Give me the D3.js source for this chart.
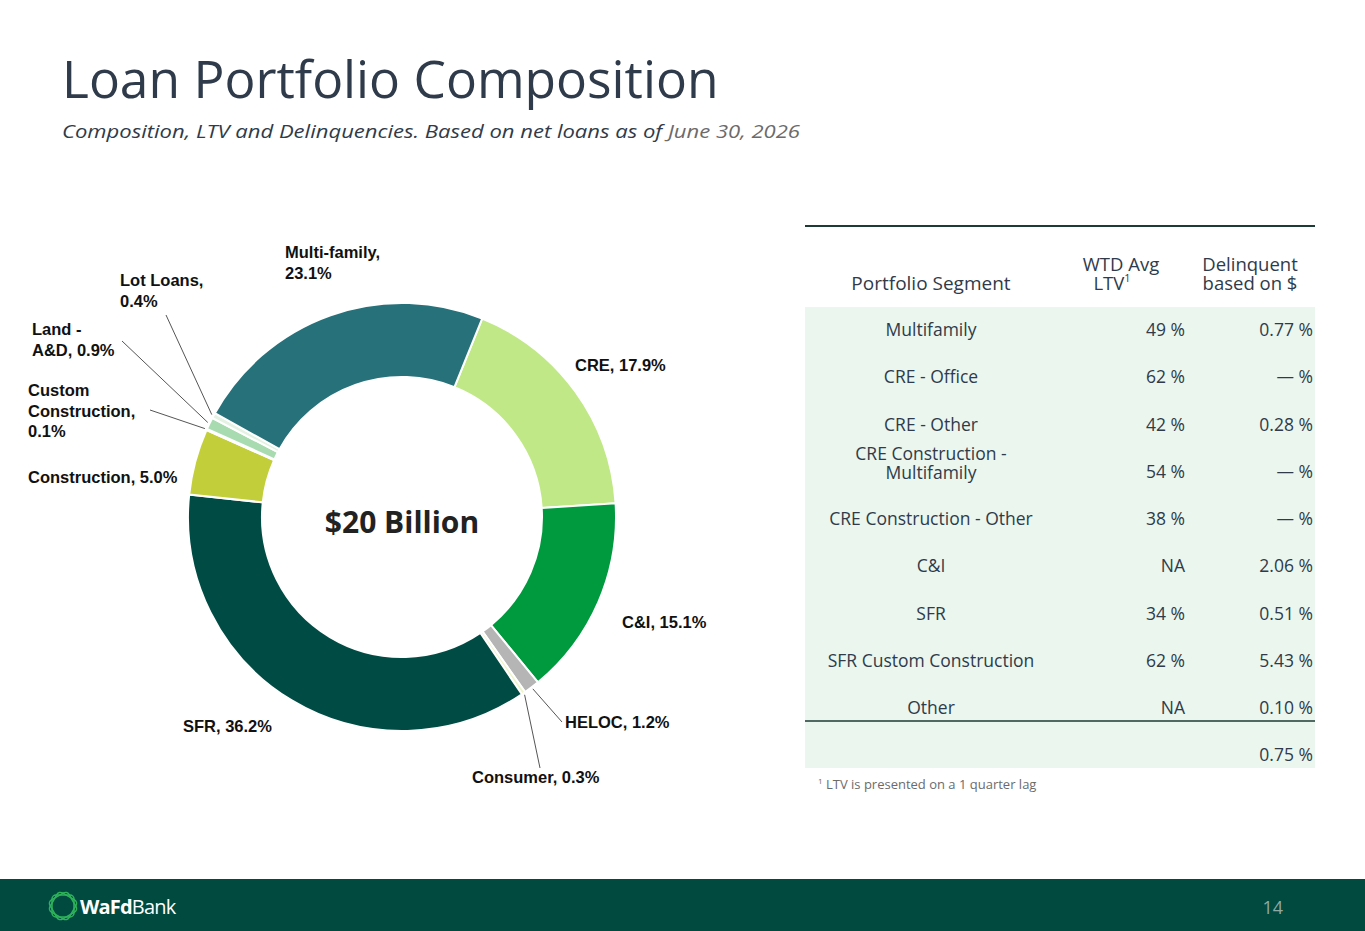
<!DOCTYPE html>
<html lang="en">
<head>
<meta charset="UTF-8">
<title>Loan Portfolio Composition</title>
<script src="https://d3js.org/d3.v7.min.js"></script>
<style>
  html, body { margin: 0; padding: 0; background: #fff; }
  svg { display: block; }
</style>
</head>
<body>
<svg width="1365" height="931"></svg>
<script>
  // donut slices, clockwise from the top-right
  const sliceNames = ["CRE", "C&I", "HELOC", "Consumer", "SFR", "Construction", "Custom Construction", "Land - A&D", "Lot Loans", "Multi-family"];
  const sliceValues = [17.9, 15.1, 1.2, 0.3, 36.2, 5.0, 0.1, 0.9, 0.4, 23.1];
  const sliceColors = ["#c0e887", "#009a3e", "#b5b5b5", "#eef5c8", "#004c45", "#c2cf3a", "#f4faf4", "#a8dcb0", "#e3f2e3", "#26717a"];

  // table
  const segments = ["Multifamily", "CRE - Office", "CRE - Other", "CRE Construction -\nMultifamily", "CRE Construction - Other", "C&I", "SFR", "SFR Custom Construction", "Other"];
  const ltv = ["49 %", "62 %", "42 %", "54 %", "38 %", "NA", "34 %", "62 %", "NA"];
  const delinquent = ["0.77 %", "— %", "0.28 %", "— %", "— %", "2.06 %", "0.51 %", "5.43 %", "0.10 %"];
  const totalDelinquent = "0.75 %";

  const svg = d3.select("svg");
  const font = "'Open Sans', 'Noto Sans', sans-serif";
  const arialish = "'Liberation Sans', Arial, sans-serif";

  // title
  svg.append("text").attr("x", 62).attr("y", 98).attr("font-family", font)
    .attr("font-size", 51.5).attr("fill", "#2f3b4a").text("Loan Portfolio Composition");
  const sub = svg.append("text").attr("x", 62).attr("y", 138).attr("font-family", font)
    .attr("font-size", 19).attr("font-style", "italic").attr("fill", "#2f3b4a")
    .attr("textLength", 738).attr("lengthAdjust", "spacingAndGlyphs");
  sub.append("tspan").text("Composition, LTV and Delinquencies. Based on net loans as of ");
  sub.append("tspan").attr("fill", "#6b6b6b").text("June 30, 2026");

  // donut
  const cx = 402, cy = 517;
  const pie = d3.pie().sort(null).startAngle(22 * Math.PI / 180).endAngle(22 * Math.PI / 180 + 2 * Math.PI);
  const arcs = pie(sliceValues);
  const arc = d3.arc().innerRadius(140).outerRadius(214);
  const g = svg.append("g").attr("transform", `translate(${cx},${cy})`);
  g.selectAll("path").data(arcs).join("path")
    .attr("d", arc).attr("fill", (d, i) => sliceColors[i])
    .attr("stroke", "#fff").attr("stroke-width", 2);

  g.append("text").attr("text-anchor", "middle").attr("y", 16)
    .attr("font-family", font).attr("font-weight", 700).attr("font-size", 30)
    .attr("fill", "#222").text("$20 Billion");

  // labels: [lines, x, y, leader end point (label side) or null]
  const labelPos = [
    [["CRE, 17.9%"], 575, 371, null],
    [["C&I, 15.1%"], 622, 628, null],
    [["HELOC, 1.2%"], 565, 728, [562, 722]],
    [["Consumer, 0.3%"], 472, 783, [540, 768]],
    [["SFR, 36.2%"], 183, 732, null],
    [["Construction, 5.0%"], 28, 483, null],
    [["Custom", "Construction,", "0.1%"], 28, 396, [150, 410]],
    [["Land -", "A&D, 0.9%"], 32, 335, [122, 341]],
    [["Lot Loans,", "0.4%"], 120, 286, [166, 315]],
    [["Multi-family,", "23.1%"], 285, 258, null]
  ];
  labelPos.forEach((l, i) => {
    const t = svg.append("text").attr("font-family", arialish).attr("font-weight", 700)
      .attr("font-size", 16.5).attr("fill", "#111");
    l[0].forEach((s, k) => t.append("tspan").attr("x", l[1]).attr("y", l[2] + k * 20.5).text(s));
    if (l[3]) {
      const a = arcs[i], mid = (a.startAngle + a.endAngle) / 2;
      const r = 216;
      svg.append("line").attr("x1", cx + r * Math.sin(mid)).attr("y1", cy - r * Math.cos(mid))
        .attr("x2", l[3][0]).attr("y2", l[3][1]).attr("stroke", "#555").attr("stroke-width", 1);
    }
  });

  // table
  const tx0 = 805, tx1 = 1315;
  svg.append("line").attr("x1", tx0).attr("x2", tx1).attr("y1", 226).attr("y2", 226)
    .attr("stroke", "#1c3b34").attr("stroke-width", 2);
  svg.append("rect").attr("x", tx0).attr("y", 307).attr("width", tx1 - tx0).attr("height", 461).attr("fill", "#ebf6ee");
  const tf = (x, y, anchor, txt, size) => svg.append("text").attr("x", x).attr("y", y)
    .attr("text-anchor", anchor).attr("font-family", font).attr("font-size", size || 17.5)
    .attr("fill", "#2f3b4a").text(txt);
  tf(931, 290, "middle", "Portfolio Segment", 19);
  tf(1121, 271, "middle", "WTD Avg", 18.5);
  const l2 = tf(1112, 290, "middle", "LTV", 18.5);
  l2.append("tspan").attr("font-size", 11).attr("dy", -8).text("1");
  tf(1250, 271, "middle", "Delinquent", 18.5);
  tf(1250, 290, "middle", "based on $", 18.5);

  const rowY = d3.scaleLinear().domain([0, 8]).range([336, 714]);
  segments.forEach((s, i) => {
    const y = rowY(i);
    const parts = s.split("\n");
    if (parts.length > 1) {
      tf(931, y - 18, "middle", parts[0]);
      tf(931, y + 1, "middle", parts[1]);
    } else tf(931, y, "middle", s);
    tf(1185, y, "end", ltv[i]);
    tf(1313, y, "end", delinquent[i]);
  });
  svg.append("line").attr("x1", tx0).attr("x2", tx1).attr("y1", 721).attr("y2", 721)
    .attr("stroke", "#1c3b34").attr("stroke-width", 1.5);
  tf(1313, 761, "end", totalDelinquent);

  const fn = svg.append("text").attr("x", 818).attr("y", 789).attr("font-family", font)
    .attr("font-size", 13).attr("fill", "#6b6b6b");
  fn.append("tspan").attr("font-size", 8).attr("dy", -5).text("1");
  fn.append("tspan").attr("dy", 5).text(" LTV is presented on a 1 quarter lag");

  // footer
  svg.append("rect").attr("x", 0).attr("y", 879).attr("width", 1365).attr("height", 52).attr("fill", "#004a40");
  const logo = svg.append("g").attr("transform", "translate(63,906)");
  [0, 30, 60].forEach(r => logo.append("rect").attr("x", -11).attr("y", -11).attr("width", 22).attr("height", 22)
    .attr("rx", 4).attr("fill", "none").attr("stroke", "#2fb35a").attr("stroke-width", 1.5)
    .attr("transform", `rotate(${r})`));
  const lt = svg.append("text").attr("x", 80).attr("y", 914).attr("font-family", font)
    .attr("font-size", 20).attr("fill", "#fff").attr("letter-spacing", -0.8);
  lt.append("tspan").attr("font-weight", 700).text("WaFd");
  lt.append("tspan").attr("font-weight", 400).text("Bank");
  svg.append("text").attr("x", 1283).attr("y", 914).attr("text-anchor", "end").attr("font-family", font)
    .attr("font-size", 18).attr("fill", "#8fa9a3").text("14");
</script>
</body>
</html>
